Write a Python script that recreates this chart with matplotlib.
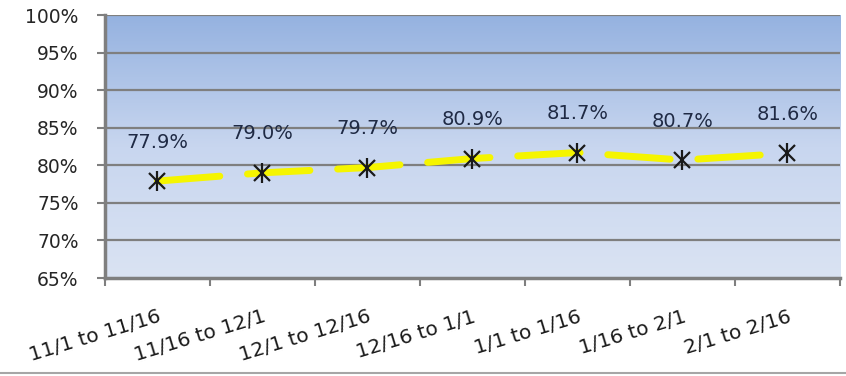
import matplotlib.pyplot as plt
import numpy as np
from matplotlib.colors import LinearSegmentedColormap
from matplotlib.lines import Line2D

# percent of target reached for each half-month period
periods = ['11/1 to 11/16', '11/16 to 12/1', '12/1 to 12/16', '12/16 to 1/1',
           '1/1 to 1/16', '1/16 to 2/1', '2/1 to 2/16']
values = [77.9, 79.0, 79.7, 80.9, 81.7, 80.7, 81.6]
y_ticks = [65, 70, 75, 80, 85, 90, 95, 100]

fig = plt.figure(figsize=(8.46, 3.76), dpi=100)
ax = fig.add_axes([0.1241, 0.2606, 0.8688, 0.6994])

x = np.arange(len(periods))
ax.set_xlim(-0.5, len(periods) - 0.5)
ax.set_ylim(65, 100)

# blue gradient backdrop, darker at the top
grad = LinearSegmentedColormap.from_list('bg', ['#dae3f3', '#c8d6ef', '#95b2e0'])
ax.imshow(np.linspace(0, 1, 256).reshape(-1, 1), cmap=grad, aspect='auto',
          extent=[0, 1, 0, 1], transform=ax.transAxes, origin='lower', zorder=0)

for t in y_ticks[1:]:
    ax.axhline(t, color='#7f7f7f', lw=1.6, zorder=1)

# yellow dashed trend with asterisk markers
ax.plot(x, values, color='#f5f500', lw=5, dashes=(9, 4),
        solid_capstyle='round', dash_capstyle='round', zorder=2)
ax.plot(x, values, ls='none', marker='x', ms=12, mew=1.6, color='#1a1a1a', zorder=3)
ax.plot(x, values, ls='none', marker='|', ms=14, mew=1.6, color='#1a1a1a', zorder=3)

for xi, v in zip(x, values):
    ax.annotate(f'{v:.1f}%', (xi, v), xytext=(0, 28), textcoords='offset points',
                ha='center', va='center', fontsize=14, color='#1f2a44')

ax.set_yticks(y_ticks)
ax.set_yticklabels([f'{t}%' for t in y_ticks], fontsize=13.5, color='#262626')
ax.set_xticks(np.arange(len(periods) + 1) - 0.5)
ax.set_xticklabels([])
ax.set_xticks(x, minor=True)
ax.set_xticklabels(periods, minor=True, rotation=17, ha='right',
                   rotation_mode='anchor', fontsize=14.5, color='#1a1a1a')
ax.tick_params(axis='x', which='minor', length=0, pad=21)
ax.tick_params(axis='x', which='major', length=6, width=1.5, color='#7f7f7f')
ax.tick_params(axis='y', length=6, width=1.5, color='#7f7f7f', pad=13)

for side in ['top', 'right']:
    ax.spines[side].set_visible(False)
for side in ['left', 'bottom']:
    ax.spines[side].set_color('#7f7f7f')
    ax.spines[side].set_linewidth(2.5)

fig.add_artist(Line2D([0, 1], [0.007, 0.007], transform=fig.transFigure,
                      color='#a6a6a6', lw=1.5))

fig.savefig('out.png', dpi=100)
